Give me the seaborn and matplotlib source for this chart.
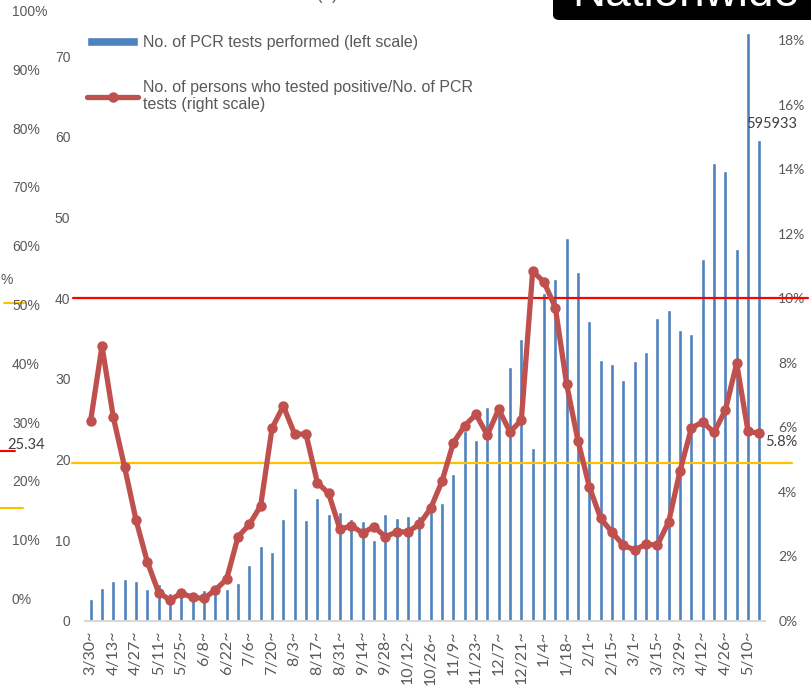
import numpy as np
import pandas as pd
import matplotlib.pyplot as plt
import seaborn as sns
from matplotlib.patches import Patch, FancyBboxPatch
from matplotlib.lines import Line2D

# weekly data (week starting)
weeks = ['3/30', '4/6', '4/13', '4/20', '4/27', '5/4', '5/11', '5/18', '5/25', '6/1',
         '6/8', '6/15', '6/22', '6/29', '7/6', '7/13', '7/20', '7/27', '8/3', '8/10',
         '8/17', '8/24', '8/31', '9/7', '9/14', '9/21', '9/28', '10/5', '10/12', '10/19',
         '10/26', '11/2', '11/9', '11/16', '11/23', '11/30', '12/7', '12/14', '12/21', '12/28',
         '1/4', '1/11', '1/18', '1/25', '2/1', '2/8', '2/15', '2/22', '3/1', '3/8',
         '3/15', '3/22', '3/29', '4/5', '4/12', '4/19', '4/26', '5/3', '5/10', '5/17']

# PCR tests performed, in 10,000s (left scale)
tests = [2.7, 4.1, 5.0, 5.2, 5.0, 4.0, 4.6, 3.5, 3.4, 3.6,
         3.9, 3.8, 4.0, 4.7, 6.9, 9.3, 8.5, 12.6, 16.5, 12.5,
         15.2, 13.3, 13.5, 12.6, 12.4, 10.0, 13.3, 12.8, 13.0, 13.0,
         13.5, 14.6, 18.2, 23.5, 22.4, 26.5, 26.4, 31.5, 35.0, 21.5,
         40.7, 42.4, 47.5, 43.3, 37.2, 32.3, 31.9, 29.9, 32.2, 33.3,
         37.6, 38.6, 36.1, 35.6, 44.9, 56.8, 55.8, 46.1, 72.9, 59.5933]
last_tests = 595933

# positives / PCR tests, % (right scale)
rate = [6.21, 8.52, 6.31, 4.76, 3.13, 1.83, 0.88, 0.65, 0.86, 0.73,
        0.70, 0.96, 1.30, 2.61, 2.99, 3.57, 5.97, 6.66, 5.79, 5.79,
        4.29, 3.95, 2.84, 2.95, 2.73, 2.92, 2.61, 2.76, 2.76, 3.00,
        3.49, 4.33, 5.52, 6.05, 6.40, 5.76, 6.56, 5.86, 6.22, 10.84,
        10.50, 9.71, 7.33, 5.58, 4.16, 3.18, 2.75, 2.35, 2.20, 2.38,
        2.35, 3.07, 4.65, 5.97, 6.17, 5.84, 6.53, 7.98, 5.88, 5.81]

red_level = 10.0
yellow_level = 4.9

left_ticks = [0, 10, 20, 30, 40, 50, 60, 70]
right_ticks = [0, 2, 4, 6, 8, 10, 12, 14, 16, 18]
side_pcts = [0, 10, 20, 30, 40, 50, 60, 70, 80, 90, 100]

sns.set_theme(style='white')
plt.rcParams['font.family'] = ['Liberation Sans', 'DejaVu Sans']
grey = '#595959'

W, H = 812, 686
fig = plt.figure(figsize=(W / 100, H / 100), dpi=100)
fig.patch.set_facecolor('white')

def fx(px):
    return px / W

def fy(py):
    return 1 - py / H

# leftover scale from a neighbouring chart on the far left
ax0 = fig.add_axes([0, fy(600), fx(60), fy(12) - fy(600)])
ax0.set_xlim(0, 60)
ax0.set_ylim(0, 100)
ax0.axis('off')
for p in side_pcts:
    ax0.text(12, p, f'{p}%', ha='left', va='center', fontsize=10, color=grey)
ax0.text(12.5, 54.4, '%', ha='right', va='center', fontsize=10, color=grey)
ax0.plot([4, 25], [50.5, 50.5], color='#FFC000', lw=1.5, clip_on=False)
ax0.plot([0, 23], [15.6, 15.6], color='#FFC000', lw=1.5, clip_on=False)
ax0.plot([0, 15], [25.34, 25.34], color='red', lw=1.5, clip_on=False)
ax0.text(7, 26.3, '25.34', ha='left', va='center', fontsize=10.5,
         color='#404040', family='Lato')

# main chart
ax = fig.add_axes([fx(85), fy(621), fx(765) - fx(85), fy(7.7) - fy(621)])
df = pd.DataFrame({'week': weeks, 'tests': tests, 'rate': rate})
df['pos'] = df.index
sns.barplot(data=df, x='week', y='tests', color='#4F81BD', saturation=1,
            width=0.35, ax=ax)

ax2 = ax.twinx()
ax2.axhline(red_level, xmin=(73 - 85) / 680, xmax=(808 - 85) / 680, color='red',
            lw=1.6, clip_on=False, zorder=1)
ax2.axhline(yellow_level, xmin=(72 - 85) / 680, xmax=(792 - 85) / 680, color='#FFC000',
            lw=1.6, clip_on=False, zorder=1)
sns.lineplot(data=df, x='pos', y='rate', color='#C0504D', lw=3.8, marker='o', ms=7.5,
             mec='#C0504D', mew=0, ax=ax2, zorder=3)

ax.set_xlim(-0.5, len(weeks) - 0.5)
ax.set_ylim(0, 76)
ax2.set_ylim(0, 19)

ax.set_yticks(left_ticks)
ax.set_yticklabels([str(t) for t in left_ticks])
ax2.set_yticks(right_ticks)
ax2.set_yticklabels([f'{t}%' for t in right_ticks], family='Lato')
ax.set_xticks(range(0, len(weeks), 2))
ax.set_xticklabels([w + '~' for w in weeks[::2]], rotation=90, family='Lato')

ax.tick_params(axis='y', length=0, pad=10.5, labelsize=10, labelcolor=grey)
ax.tick_params(axis='x', length=0, pad=7, labelsize=11.5, labelcolor=grey)
ax2.tick_params(axis='y', length=0, pad=9.5, labelsize=10, labelcolor=grey)
ax.set_xlabel('')
ax.set_ylabel('')
ax2.set_xlabel('')
ax2.set_ylabel('')

for s in ['top', 'left', 'right']:
    ax.spines[s].set_visible(False)
ax.spines['bottom'].set_color('#D9D9D9')
ax.spines['bottom'].set_linewidth(1.5)
for s in ax2.spines.values():
    s.set_visible(False)

ax.annotate(f'{last_tests}', xy=(len(weeks) - 1, tests[-1]), xytext=(-13, 16),
            textcoords='offset pixels', ha='left', va='center', fontsize=10.5,
            family='Lato', color='#404040')
ax2.annotate(f'{rate[-1]:.1f}%', xy=(len(weeks) - 1, rate[-1]), xytext=(6, -9),
             textcoords='offset pixels', ha='left', va='center', fontsize=10.5,
             family='Lato', color='#404040')

handles = [Patch(facecolor='#4F81BD'),
           Line2D([], [], color='#C0504D', lw=3.8, marker='o', ms=7.5, mew=0)]
labels = ['No. of PCR tests performed (left scale)',
          'No. of persons who tested positive/No. of PCR\ntests (right scale)']
fig.legend(handles, labels, loc='upper left', bbox_to_anchor=(fx(87), fy(35)),
           frameon=False, fontsize=11.5, labelcolor=grey, handlelength=3.2,
           handleheight=0.55, handletextpad=0.3, labelspacing=1.85,
           borderpad=0, borderaxespad=0)

# title remnants at the top
fig.patches.append(FancyBboxPatch((fx(553), fy(20)), fx(840) - fx(553), fy(-20) - fy(20),
                                  boxstyle='round,pad=0,rounding_size=0.008',
                                  transform=fig.transFigure, fc='black', ec='none'))
fig.text(fx(572), fy(6), 'Nationwide', color='white', fontsize=33, va='baseline', ha='left')
fig.text(fx(317), fy(0), '(2)', color=grey, fontsize=12, va='baseline', ha='left')

fig.savefig('out.png', dpi=100)
